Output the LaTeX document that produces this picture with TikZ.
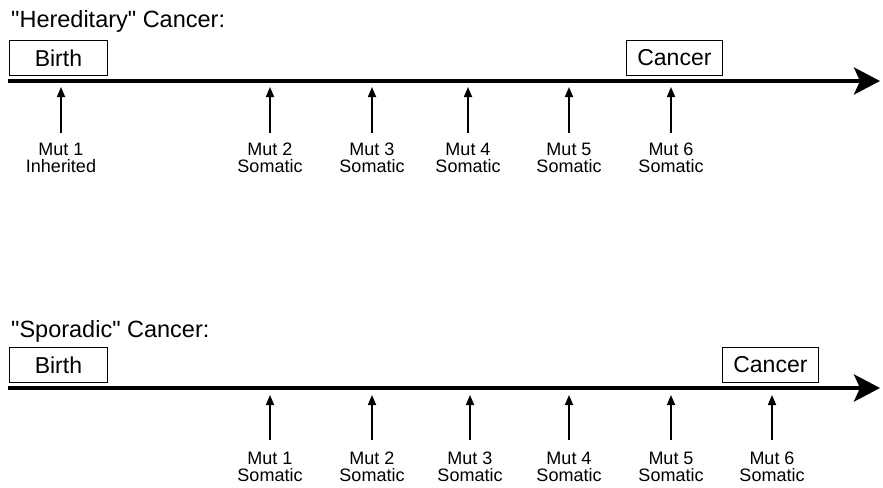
\documentclass[tikz,border=0pt]{standalone}
\usepackage{fontspec}
\setmainfont{Liberation Sans}
\newfontfamily\rawsans{Liberation Sans}
\usetikzlibrary{arrows.meta}
\newcommand\tightlines{\lineskiplimit=-20pt\relax}
\begin{document}
\begin{tikzpicture}[x=1pt,y=-1pt,
  title/.style={anchor=base west,font=\rawsans\fontsize{23.5}{24}\selectfont,inner sep=0},
  stagebox/.style={draw,line width=0.8pt,anchor=north west,font=\fontsize{23}{24}\selectfont,inner sep=0},
  axis/.style={line width=4pt,-{Stealth[length=26pt,width=27pt,inset=6pt]}},
  mutarrow/.style={line width=1.7pt,-{Triangle[length=10pt,width=8pt]}},
  mutlabel/.style={anchor=north,align=center,font=\fontsize{18}{17}\selectfont\tightlines,inner sep=0}]
\useasboundingbox (0,0) rectangle (883,487);
% ---- Hereditary ----
\node[title] (t1) at (11,28) {"Hereditary" Cancer:};
\node[stagebox,minimum width=98pt,minimum height=35pt] (b1) at (9,40) {Birth};
\node[stagebox,minimum width=96pt,minimum height=35pt] (c1) at (626,40) {Cancer};
\coordinate (a1s) at (8,81);
\coordinate (a1e) at (880,81);
\draw[axis] (a1s) -- (a1e);
\foreach \x/\n/\k in {61/1/Inherited,270/2/Somatic,372/3/Somatic,468/4/Somatic,569/5/Somatic,671/6/Somatic}{
  \coordinate (p1\n) at (\x,133);
  \coordinate (q1\n) at (\x,87);
  \draw[mutarrow] (p1\n) -- (q1\n);
  \node[mutlabel] (m1\n) at (\x,143) {Mut \n\\\k};
}
% ---- Sporadic ----
\node[title] (t2) at (11,337) {"Sporadic" Cancer:};
\node[stagebox,minimum width=98pt,minimum height=35pt] (b2) at (9,347) {Birth};
\node[stagebox,minimum width=96pt,minimum height=35pt] (c2) at (722,347) {Cancer};
\coordinate (a2s) at (8,388);
\coordinate (a2e) at (880,388);
\draw[axis] (a2s) -- (a2e);
\foreach \x/\n in {270/1,372/2,470/3,569/4,671/5,772/6}{
  \coordinate (p2\n) at (\x,440);
  \coordinate (q2\n) at (\x,395);
  \draw[mutarrow] (p2\n) -- (q2\n);
  \node[mutlabel] (m2\n) at (\x,452) {Mut \n\\Somatic};
}
\end{tikzpicture}
\end{document}
